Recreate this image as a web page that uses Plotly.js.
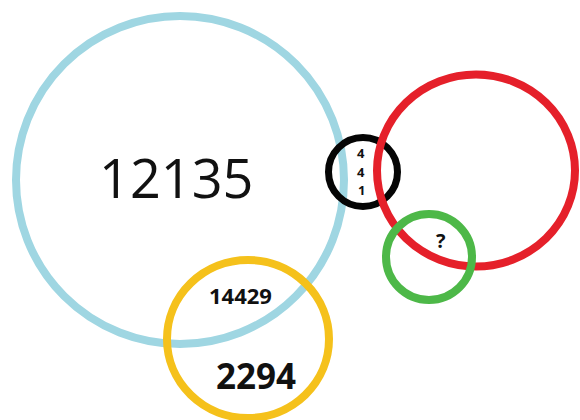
<!DOCTYPE html>
<html>
<head>
<meta charset="utf-8">
<script src="https://cdn.plot.ly/plotly-3.0.1.min.js"></script>
<style>html,body{margin:0;padding:0;background:#fff;}#chart{width:580px;height:420px;}</style>
</head>
<body>
<div id="chart"></div>
<script>
// Circles (sets) of the diagram
const circleColors = ["#9fd6e2", "#f5c11b", "#050505", "#e5202a", "#4db848"];
const circleCX = [180, 248, 363, 476, 429];
const circleCY = [180, 339, 172, 170.5, 257];
const circleRX = [164, 81, 34.5, 99, 43];
const circleRY = [164, 79, 34.5, 96, 43];
const circleWidth = [8, 8, 7, 8, 8];

// Region labels
const labelText = ["12135", "14429", "2294", "?"];
const labelX = [176, 240, 256, 441];
const labelY = [177, 295, 375, 240];
const labelSize = [54, 22, 35, 20];
const labelBold = [false, true, true, true];

// Stacked counts inside the small black circle
const blackCounts = ["4", "4", "1"];
const blackCountX = [361, 361, 361];
const blackCountY = [153, 171.5, 190];

const shapes = circleCX.map((cx, i) => ({
  type: "circle", xref: "x", yref: "y",
  x0: cx - circleRX[i], x1: cx + circleRX[i],
  y0: circleCY[i] - circleRY[i], y1: circleCY[i] + circleRY[i],
  line: {color: circleColors[i], width: circleWidth[i]},
  fillcolor: "rgba(0,0,0,0)", layer: "above"
}));

const annotations = labelText.map((t, i) => ({
  x: labelX[i], y: labelY[i], xref: "x", yref: "y",
  text: labelBold[i] ? "<b>" + t + "</b>" : t,
  showarrow: false, xanchor: "center", yanchor: "middle",
  font: {family: "Open Sans, sans-serif", size: labelSize[i], color: "#111"}
})).concat(blackCounts.map((t, i) => ({
  x: blackCountX[i], y: blackCountY[i], xref: "x", yref: "y",
  text: "<b>" + t + "</b>", showarrow: false, xanchor: "center", yanchor: "middle",
  font: {family: "Open Sans, sans-serif", size: 13, color: "#111"}
})));

const layout = {
  width: 580, height: 420,
  margin: {l: 0, r: 0, t: 0, b: 0, pad: 0},
  paper_bgcolor: "#ffffff", plot_bgcolor: "#ffffff",
  xaxis: {range: [0, 580], visible: false, fixedrange: true},
  yaxis: {range: [420, 0], visible: false, fixedrange: true},
  showlegend: false,
  shapes: shapes,
  annotations: annotations
};

Plotly.newPlot("chart", [{x: [], y: [], type: "scatter", mode: "markers", hoverinfo: "skip"}], layout, {displayModeBar: false, staticPlot: true});
</script>
</body>
</html>
